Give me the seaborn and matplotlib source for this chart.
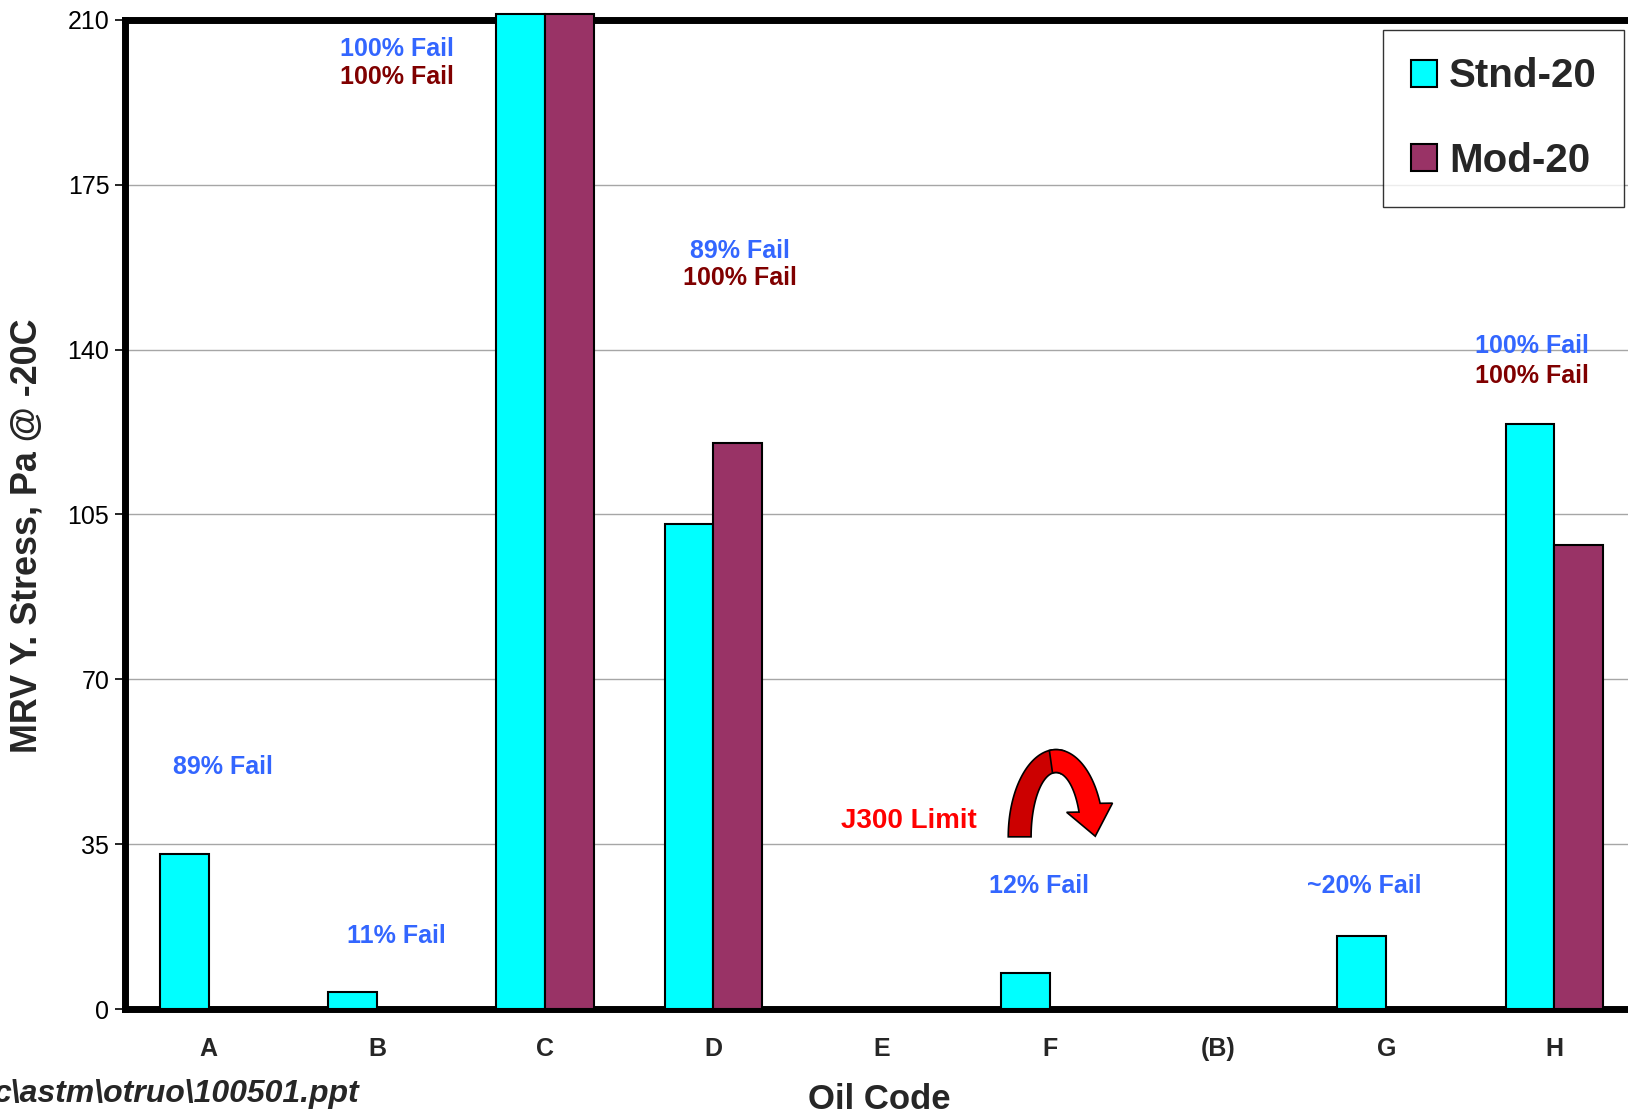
import numpy as np
import pandas as pd
import matplotlib
matplotlib.use("Agg")
import matplotlib.pyplot as plt
import seaborn as sns
from matplotlib.patches import Polygon

# ---------------- data ----------------
categories = ["A", "B", "C", "D", "E", "F", "(B)", "G", "H"]
series_names = ["Stnd-20", "Mod-20"]
stnd_values = [33.0, 3.7, 211.2, 102.9, np.nan, 7.7, np.nan, 15.6, 124.3]
mod_values = [np.nan, np.nan, 211.2, 120.1, np.nan, np.nan, np.nan, np.nan, 98.5]
y_ticks = [0, 35, 70, 105, 140, 175, 210]

# annotations: (category position, y value, text)
fail_labels_blue = [
    (1.117, 203.8, "100% Fail"),
    (3.160, 160.9, "89% Fail"),
    (7.864, 140.8, "100% Fail"),
    (0.086, 51.3, "89% Fail"),
    (1.117, 15.6, "11% Fail"),
    (4.938, 26.2, "12% Fail"),
    (6.870, 26.2, "~20% Fail"),
]
fail_labels_red = [
    (1.117, 197.9, "100% Fail"),
    (3.160, 155.1, "100% Fail"),
    (7.864, 134.4, "100% Fail"),
]
limit_label = (4.16, 39.9, "J300 Limit")

df = pd.DataFrame({
    "Oil Code": categories * 2,
    "Series": [series_names[0]] * len(categories) + [series_names[1]] * len(categories),
    "Value": stnd_values + mod_values,
})

# ---------------- style ----------------
sns.set_theme(style="white")
plt.rcParams["font.family"] = ["Liberation Sans", "DejaVu Sans"]

fig = plt.figure(figsize=(16.28, 11.15), dpi=100)
ax = fig.add_axes([0.0765, 0.0949, 0.930, 0.8874])

palette = {"Stnd-20": "#00FFFF", "Mod-20": "#993366"}
sns.barplot(data=df, x="Oil Code", y="Value", hue="Series", order=categories,
            hue_order=series_names, palette=palette, width=0.58, ax=ax,
            edgecolor="black", linewidth=1.5, saturation=1, errorbar=None,
            zorder=3)
for p in ax.patches:
    p.set_clip_on(False)

ax.set_ylim(0, 210)
ax.set_xlim(-0.5, len(categories) - 0.5)
ax.set_yticks(y_ticks)
ax.set_yticklabels([str(t) for t in y_ticks], fontsize=18)
ax.yaxis.grid(True, color="#A6A6A6", linewidth=1.0, zorder=0)
ax.xaxis.grid(False)
ax.set_axisbelow(True)

ax.set_xticks(range(len(categories)))
ax.set_xticklabels(categories, fontsize=18, fontweight="bold")
ax.set_xticks(np.arange(-0.5, len(categories), 1.0), minor=True)
ax.tick_params(axis="x", which="major", length=0, pad=20)
ax.tick_params(axis="x", which="minor", length=7, width=1.2, color="black",
               direction="out")
ax.tick_params(axis="y", which="major", length=7, width=1.2, color="black",
               direction="out", left=True, pad=4, labelcolor="black")

for side in ["left", "bottom", "top"]:
    ax.spines[side].set_visible(True)
    ax.spines[side].set_color("black")
    ax.spines[side].set_linewidth(5)
    ax.spines[side].set_zorder(2.5)
ax.spines["right"].set_visible(False)

ax.set_ylabel("MRV Y. Stress, Pa @ -20C", fontsize=25.8, fontweight="bold")
ax.yaxis.set_label_coords(-0.053, 0.478)
ax.set_xlabel("Oil Code", fontsize=25, fontweight="bold")
ax.xaxis.set_label_coords(0.4987, -0.0746)

# legend
handles, labels = ax.get_legend_handles_labels()
leg = ax.legend(handles, labels, loc="upper right",
                bbox_to_anchor=(1624 / 1628, 1 - 30 / 1115),
                bbox_transform=fig.transFigure,
                prop={"size": 29, "weight": "bold"}, frameon=True,
                fancybox=False, shadow=False, handlelength=0.65,
                handleheight=0.65, handletextpad=0.3, labelspacing=1.15,
                borderpad=0.68, borderaxespad=0)
leg.get_frame().set_edgecolor("black")
leg.get_frame().set_linewidth(1.0)
for h in leg.legend_handles:
    h.set_edgecolor("black")
    h.set_linewidth(1.5)

# fail labels
for x, y, t in fail_labels_blue:
    ax.text(x, y, t, color="#3366FF", fontsize=18, fontweight="bold",
            ha="center", va="center", zorder=5)
for x, y, t in fail_labels_red:
    ax.text(x, y, t, color="#800000", fontsize=18, fontweight="bold",
            ha="center", va="center", zorder=5)
ax.text(limit_label[0], limit_label[1], limit_label[2], color="#FF0000",
        fontsize=20, fontweight="bold", ha="center", va="center", zorder=5)

# ---------------- curved decorative arrow ----------------
# geometry in reference-pixel units, converted to data units
def to_data(px, py):
    return ((np.asarray(px) - 200.0) / 162.0, (972.0 - np.asarray(py)) / 4.538)

cx, by, rx, ry, hw = 1016.0, 806.0, 35.0, 73.0, 11.0
theta_end = np.deg2rad(22.6)

def band(t0, t1, n=60):
    th = np.linspace(t0, t1, n)
    ox = cx + (rx + hw) * np.cos(th)
    oy = by - (ry + hw) * np.sin(th)
    ix = cx + (rx - hw) * np.cos(th)
    iy = by - (ry - hw) * np.sin(th)
    return ox, oy, ix, iy

# left (darker) leg
ox, oy, ix, iy = band(np.pi, np.deg2rad(80))
lx = np.concatenate([ox, ix[::-1]])
ly = np.concatenate([oy, iy[::-1]])
dx, dy = to_data(lx, ly)
ax.add_patch(Polygon(np.column_stack([dx, dy]), closed=True, facecolor="#CC0000",
                     edgecolor="black", linewidth=1.2, zorder=6, clip_on=False))

# right (bright) leg with head
ox, oy, ix, iy = band(np.deg2rad(98), theta_end)
pxc = cx + rx * np.cos(theta_end)
pyc = by - ry * np.sin(theta_end)
tvec = np.array([rx * np.sin(theta_end), ry * np.cos(theta_end)])
tvec /= np.linalg.norm(tvec)
nvec = np.array([tvec[1], -tvec[0]])
head_w, head_l = 22.5, 28.0
h_out = (pxc + head_w * nvec[0], pyc + head_w * nvec[1])
h_in = (pxc - head_w * nvec[0], pyc - head_w * nvec[1])
tip = (pxc + head_l * tvec[0], pyc + head_l * tvec[1])
rx_pts = np.concatenate([ox, [h_out[0], tip[0], h_in[0]], ix[::-1]])
ry_pts = np.concatenate([oy, [h_out[1], tip[1], h_in[1]], iy[::-1]])
dx, dy = to_data(rx_pts, ry_pts)
ax.add_patch(Polygon(np.column_stack([dx, dy]), closed=True, facecolor="#FF0000",
                     edgecolor="black", linewidth=1.2, zorder=6.5, clip_on=False))

# footer
fig.text(-0.004, 1 - 1094 / 1115, r"c\astm\otruo\100501.ppt", fontsize=23,
         fontweight="bold", fontstyle="italic", ha="left", va="center")

fig.savefig("out.png", dpi=100)
